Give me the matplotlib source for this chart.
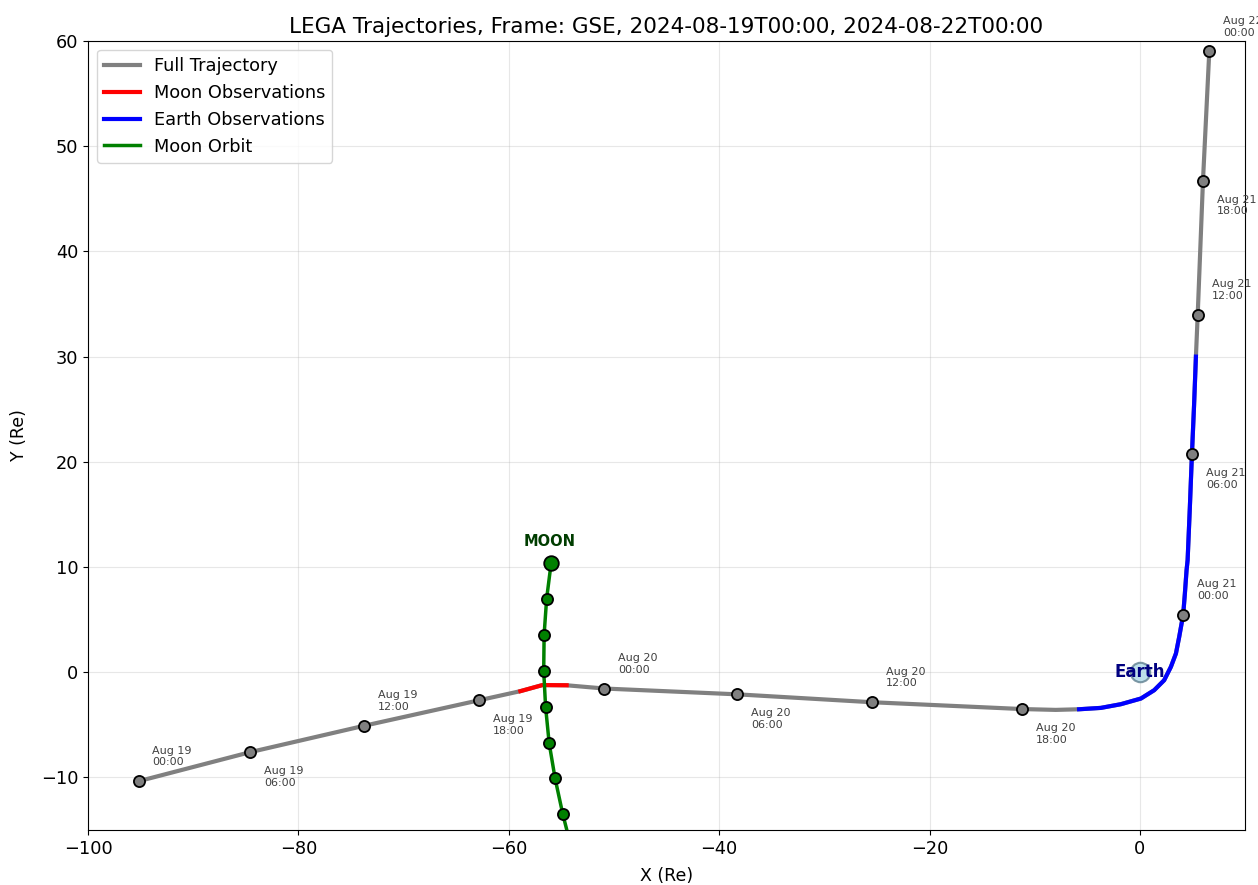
import numpy as np
import matplotlib
matplotlib.use("Agg")
from matplotlib import pyplot as plt

# spacecraft path in GSE (Re)
traj_x = [-95.2, -84.6, -73.8, -62.8, -58.9, -56.8, -54.5, -50.9, -38.3, -25.5,
          -11.2, -8.0, -5.78, -3.71, -1.81, 0.1, 1.36, 2.31, 2.95, 3.43, 3.74, 4.12,
          4.28, 4.44, 4.54, 4.75, 4.95, 5.15, 5.33, 5.5, 6.0, 6.6]
traj_y = [-10.36, -7.6, -5.1, -2.66, -1.8, -1.22, -1.24, -1.55, -2.1, -2.85,
          -3.5, -3.58, -3.52, -3.39, -3.04, -2.5, -1.71, -0.76, 0.51, 1.78, 3.36, 5.48,
          7.48, 9.7, 10.65, 15.6, 20.7, 25.3, 30.0, 34.0, 46.7, 59.0]

# observation windows (indices into the path)
moon_obs = (4, 7)      # red stretch
earth_obs = (12, 29)   # blue stretch

# 6-hourly time stamps
mark_x = [-95.2, -84.6, -73.8, -62.8, -50.9, -38.3, -25.5, -11.2, 4.12, 4.95, 5.5, 6.0, 6.6]
mark_y = [-10.36, -7.6, -5.1, -2.66, -1.55, -2.1, -2.85, -3.5, 5.48, 20.7, 34.0, 46.7, 59.0]
mark_labels = ["Aug 19\n00:00", "Aug 19\n06:00", "Aug 19\n12:00", "Aug 19\n18:00",
               "Aug 20\n00:00", "Aug 20\n06:00", "Aug 20\n12:00", "Aug 20\n18:00",
               "Aug 21\n00:00", "Aug 21\n06:00", "Aug 21\n12:00", "Aug 21\n18:00",
               "Aug 22\n00:00"]

# moon orbit (hourly)
moon_x = [-55.97, -56.4, -56.64, -56.68, -56.5, -56.16, -55.6, -54.87, -54.0]
moon_y = [10.39, 7.0, 3.58, 0.13, -3.3, -6.75, -10.08, -13.47, -16.9]

fig = plt.figure(figsize=(12.58, 8.85), dpi=100)
ax = fig.add_axes([0.070, 0.0621, 0.9197, 0.8916])

ax.plot(traj_x, traj_y, color="gray", lw=3, label="Full Trajectory", zorder=2)
a, b = moon_obs
ax.plot(traj_x[a:b], traj_y[a:b], color="red", lw=3, label="Moon Observations", zorder=3)
a, b = earth_obs
ax.plot(traj_x[a:b], traj_y[a:b], color="blue", lw=3, label="Earth Observations", zorder=3)
ax.plot(moon_x, moon_y, color="green", lw=2.5, label="Moon Orbit", zorder=4)

ax.plot(moon_x[1:], moon_y[1:], "o", color="green", mec="black", mew=1.3, ms=8, zorder=5)
ax.plot(moon_x[0], moon_y[0], "o", color="green", mec="black", mew=1.3, ms=10.5, zorder=5)
ax.annotate("MOON", (moon_x[0], moon_y[0]), xytext=(-1, 10), textcoords="offset points",
            ha="center", va="bottom", fontsize=10.5, fontweight="bold", color="#003d00")

ax.plot(mark_x, mark_y, "o", color="gray", mec="black", mew=1.3, ms=8, zorder=5)
for i, (x, y, lab) in enumerate(zip(mark_x, mark_y, mark_labels)):
    if i % 2 == 0:
        ax.annotate(lab, (x, y), xytext=(10, 10), textcoords="offset points",
                    ha="left", va="bottom", fontsize=8, color="#404040")
    else:
        ax.annotate(lab, (x, y), xytext=(10, -10), textcoords="offset points",
                    ha="left", va="top", fontsize=8, color="#404040")

# earth
ax.plot(0, 0, "o", color="lightblue", mec="#5f7f8f", mew=1.5, ms=14, alpha=0.8, zorder=2.5)
ax.text(0, 0, "Earth", ha="center", va="center", fontsize=12, fontweight="bold",
        color="navy", zorder=2.6)

ax.set_xlim(-100, 10)
ax.set_ylim(-15, 60)
ax.grid(True, alpha=0.3)
ax.tick_params(labelsize=12.8)
ax.set_xlabel("X (Re)", fontsize=12.5, labelpad=7)
ax.set_ylabel("Y (Re)", fontsize=12.5, labelpad=9)
ax.set_title("LEGA Trajectories, Frame: GSE, 2024-08-19T00:00, 2024-08-22T00:00", fontsize=15.5)
ax.legend(loc="upper left", fontsize=12.8)

fig.savefig("out.png", dpi=100)
